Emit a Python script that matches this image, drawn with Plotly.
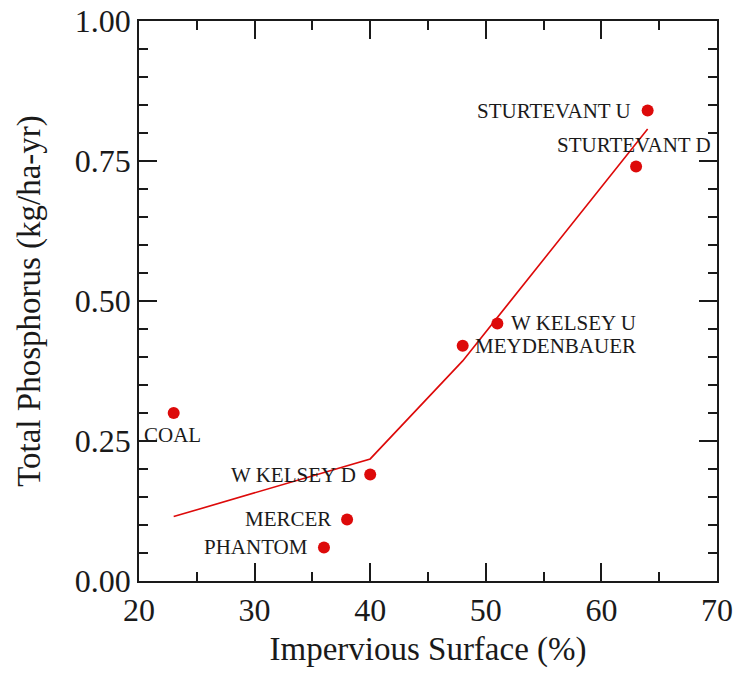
import plotly.graph_objects as go

# Watershed sites: impervious cover (%) vs. total phosphorus load (kg/ha-yr)
sites = ["COAL", "PHANTOM", "MERCER", "W KELSEY D", "MEYDENBAUER",
         "W KELSEY U", "STURTEVANT D", "STURTEVANT U"]
impervious = [23, 36, 38, 40, 48, 51, 63, 64]
phosphorus = [0.30, 0.06, 0.11, 0.19, 0.42, 0.46, 0.74, 0.84]

# Piecewise fitted trend line
fit_x = [23, 40, 48, 64]
fit_y = [0.115, 0.218, 0.393, 0.807]

# Label placement per site: (xanchor, yanchor, xshift, yshift)
label_pos = {
    "COAL": ("center", "middle", -1, -22),
    "PHANTOM": ("right", "middle", -14, 0),
    "MERCER": ("right", "middle", -14, 0),
    "W KELSEY D": ("right", "middle", -12, 0),
    "MEYDENBAUER": ("left", "middle", 10, 0),
    "W KELSEY U": ("left", "middle", 12, 0),
    "STURTEVANT D": ("right", "middle", 77, 22),
    "STURTEVANT U": ("right", "middle", -15, 0),
}

RED = "#dd0a0a"
INK = "#1a1a1a"
SERIF = "Liberation Serif"

fig = go.Figure()
fig.add_trace(go.Scatter(x=fit_x, y=fit_y, mode="lines",
                         line=dict(color=RED, width=1.6), hoverinfo="skip"))
fig.add_trace(go.Scatter(x=impervious, y=phosphorus, mode="markers",
                         marker=dict(color=RED, size=12, line=dict(width=0)),
                         text=sites))

for name, xv, yv in zip(sites, impervious, phosphorus):
    xa, ya, dx, dy = label_pos[name]
    fig.add_annotation(x=xv, y=yv, text=name, showarrow=False,
                       xanchor=xa, yanchor=ya, xshift=dx, yshift=dy,
                       font=dict(family=SERIF, size=21, color=INK))

axis_common = dict(
    showline=True, linecolor=INK, linewidth=1.5, mirror="ticks",
    ticks="inside", ticklen=18, tickwidth=1.5, tickcolor=INK,
    showgrid=False, zeroline=False, automargin=False,
    tickfont=dict(family=SERIF, size=32, color=INK),
)

fig.update_xaxes(range=[20, 70], dtick=10, tick0=20,
                 minor=dict(ticks="inside", ticklen=9, dtick=5, tick0=20,
                            tickcolor=INK, tickwidth=1.5, showgrid=False),
                 title=dict(text="Impervious Surface (%)", standoff=10,
                            font=dict(family=SERIF, size=33, color=INK)),
                 **axis_common)
fig.update_yaxes(range=[0, 1], dtick=0.25, tick0=0, tickformat=".2f",
                 minor=dict(ticks="inside", ticklen=9, dtick=0.05, tick0=0,
                            tickcolor=INK, tickwidth=1.5, showgrid=False),
                 title=dict(text="Total Phosphorus (kg/ha-yr)", standoff=24,
                            font=dict(family=SERIF, size=33, color=INK)),
                 **axis_common)

fig.update_layout(
    width=735, height=673,
    margin=dict(l=139, r=18, t=21, b=92),
    paper_bgcolor="white", plot_bgcolor="white",
    font=dict(family=SERIF),
    showlegend=False,
)

fig.write_html("out.html")
